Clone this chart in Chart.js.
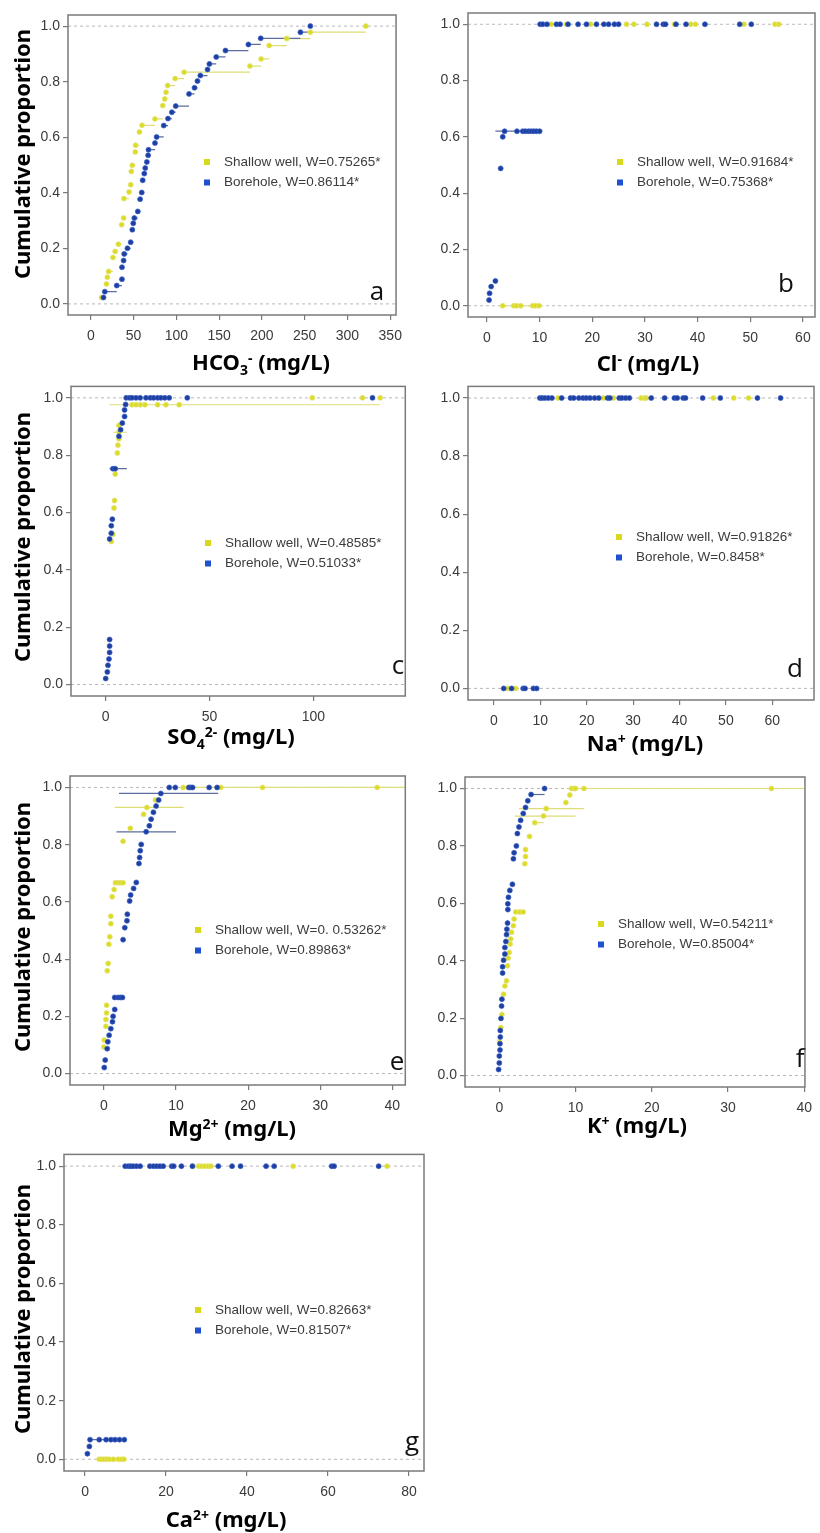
<!DOCTYPE html>
<html>
<head>
<meta charset="utf-8">
<script src="https://cdn.jsdelivr.net/npm/chart.js@4.4.0/dist/chart.umd.min.js"></script>
<style>
  body { margin: 0; background: #fff; }
  canvas { position: absolute; }
</style>
</head>
<body>
<script>
// ---- data: [x, cumulative proportion] ----
const hco3Shallow = [[12.5,0.023],[18.2,0.072],[19.3,0.096],[20.8,0.117],[25.8,0.167],[28.4,0.189],[32.2,0.215],[36,0.285],[38.3,0.309],[38.6,0.379],[44.7,0.403],[46.6,0.429],[47.3,0.477],[48.5,0.499],[51.9,0.547],[52.3,0.571],[56.8,0.619],[59.8,0.643],[75,0.666],[84.1,0.714],[86.4,0.738],[87.9,0.762],[89.8,0.786],[98.5,0.811],[109,0.834],[186,0.856],[199,0.882],[208.5,0.930],[229,0.955],[256.6,0.978],[321.5,1.0]];
const hco3Borehole = [[14.8,0.023],[16.3,0.044],[30.3,0.066],[36.4,0.089],[36.4,0.132],[38.3,0.156],[39,0.18],[42.8,0.2],[46.6,0.222],[48.5,0.267],[49.6,0.29],[50.8,0.309],[54.9,0.333],[57.6,0.377],[59.5,0.401],[60.6,0.445],[62.5,0.469],[63.6,0.489],[65.5,0.511],[67,0.535],[67.4,0.555],[75,0.579],[76.9,0.601],[85.2,0.642],[90.2,0.667],[94.7,0.69],[99.2,0.712],[114.8,0.756],[121.2,0.778],[124.6,0.802],[128,0.822],[136.4,0.844],[138.6,0.864],[146.6,0.889],[157.4,0.912],[184.2,0.934],[198.6,0.956],[245,0.978],[256.6,1.0]];

const clShallow = [[3.0,0],[5.1,0],[5.6,0],[6.4,0],[8.7,0],[9.2,0],[9.9,0],[12.2,1],[15.1,1],[19.7,1],[26.5,1],[27.9,1],[30.4,1],[35.6,1],[38.7,1],[39.6,1],[48.8,1],[54.7,1],[55.4,1]];
const clBorehole = [[0.4,0.02],[0.5,0.044],[0.8,0.068],[1.6,0.088],[2.6,0.488],[3.0,0.6],[3.35,0.62],[5.7,0.62],[6.8,0.62],[7.3,0.62],[7.9,0.62],[8.4,0.62],[8.9,0.62],[9.4,0.62],[10.0,0.62],[10.1,1],[10.6,1],[11.4,1],[13.2,1],[13.9,1],[15.4,1],[17.3,1],[18.9,1],[20.8,1],[22.2,1],[23.1,1],[24.2,1],[25.0,1],[32.2,1],[33.5,1],[33.9,1],[35.9,1],[37.8,1],[41.4,1],[48.0,1],[50.2,1]];
const clShallowSegs = [[0, 3.0, 10.0]];          // [y, from x, to x]
const clBoreholeSegs = [[0.62, 1.6, 10.0]];

const so4Shallow = [[2.7,0.499],[3.5,0.524],[4,0.616],[4.3,0.642],[4.6,0.734],[5.6,0.808],[5.9,0.835],[6.4,0.857],[6.4,0.881],[6.4,0.904],[12.7,0.976],[14.6,0.976],[16.7,0.976],[18.9,0.976],[25,0.976],[29,0.976],[35.4,0.976],[99.5,1],[123.7,1],[132.2,1]];
const so4Borehole = [[0,0.021],[0.8,0.044],[1.1,0.067],[1.6,0.089],[1.9,0.112],[1.9,0.134],[1.9,0.157],[1.9,0.508],[2.7,0.528],[2.7,0.554],[3.2,0.577],[3.5,0.753],[4.6,0.753],[6.4,0.866],[7.2,0.889],[8,0.912],[9.1,0.935],[9.1,0.958],[9.6,0.977],[9.9,1],[11.5,1],[12.7,1],[14.6,1],[16.6,1],[19.4,1],[21.5,1],[23.1,1],[25,1],[26.6,1],[28.5,1],[30.6,1],[39.3,1],[128.5,1]];
const so4ShallowSegs = [[0.976, 1.9, 132], [0.88, 3.5, 10.2]];
const so4BoreholeSegs = [[0.753, 1.9, 10.2]];

const naShallow = [[3.0,0],[4.7,0],[13.8,1],[23.6,1],[25.8,1],[31.7,1],[32.4,1],[32.8,1],[47.3,1],[51.7,1],[54.9,1]];
const naBorehole = [[2.1,0],[3.8,0],[6.3,0],[6.7,0],[8.5,0],[9.2,0],[9.9,1],[10.4,1],[11.0,1],[11.7,1],[12.5,1],[14.6,1],[16.5,1],[17.2,1],[18.3,1],[19.2,1],[19.9,1],[20.7,1],[21.7,1],[22.6,1],[24.5,1],[25.0,1],[27.0,1],[27.6,1],[28.4,1],[29.2,1],[33.9,1],[36.8,1],[38.9,1],[39.5,1],[40.8,1],[41.3,1],[45.0,1],[48.8,1],[56.8,1],[61.8,1]];
const naShallowSegs = [];
const naBoreholeSegs = [];

const mgShallow = [[0,0.093],[0.05,0.117],[0.27,0.165],[0.27,0.189],[0.37,0.212],[0.37,0.239],[0.46,0.359],[0.6,0.385],[0.69,0.452],[0.82,0.478],[0.96,0.524],[0.96,0.55],[1.15,0.618],[1.42,0.643],[1.6,0.667],[1.97,0.667],[2.3,0.667],[2.66,0.667],[2.66,0.812],[3.66,0.857],[5.5,0.906],[5.96,0.93],[7.15,0.956],[11,1],[11.7,1],[16.2,1],[22,1],[37.9,1]];
const mgBorehole = [[0.05,0.021],[0.18,0.047],[0.46,0.087],[0.55,0.111],[0.73,0.134],[0.96,0.157],[1.19,0.181],[1.28,0.2],[1.5,0.224],[1.5,0.266],[1.97,0.266],[2.3,0.266],[2.57,0.266],[2.66,0.468],[2.9,0.51],[3.2,0.534],[3.25,0.557],[3.57,0.603],[3.71,0.624],[4.12,0.647],[4.49,0.668],[4.86,0.734],[4.95,0.755],[5.04,0.779],[5.18,0.801],[5.86,0.845],[6.3,0.866],[6.55,0.889],[6.87,0.913],[7.24,0.935],[7.6,0.956],[7.9,0.979],[9.07,1],[9.9,1],[11.8,1],[12.05,1],[12.3,1],[14.6,1],[15.7,1]];
const mgShallowSegs = [[0.93, 1.5, 11.04], [1, 11, 41.8]];
const mgBoreholeSegs = [[0.845, 1.74, 10.0], [0.979, 2.1, 15.85]];

const kShallow = [[0.05,0.117],[0.2,0.167],[0.34,0.213],[0.56,0.283],[0.73,0.312],[0.95,0.33],[1.08,0.382],[1.16,0.409],[1.29,0.429],[1.42,0.458],[1.5,0.476],[1.6,0.499],[1.85,0.522],[1.94,0.545],[2.15,0.57],[2.7,0.57],[3.14,0.57],[3.35,0.738],[3.44,0.763],[3.44,0.787],[3.96,0.833],[4.65,0.881],[5.8,0.904],[6.15,0.93],[8.73,0.951],[9.25,0.977],[9.46,1],[9.76,1],[10.0,1],[11.1,1],[35.7,1]];
const kBorehole = [[-0.09,0.021],[0,0.044],[0,0.068],[0.09,0.089],[0.09,0.111],[0.13,0.134],[0.13,0.157],[0.22,0.199],[0.3,0.242],[0.34,0.266],[0.43,0.357],[0.43,0.379],[0.56,0.402],[0.73,0.423],[0.73,0.446],[0.86,0.467],[0.95,0.491],[0.99,0.51],[1.08,0.531],[1.12,0.578],[1.12,0.598],[1.2,0.621],[1.38,0.645],[1.72,0.666],[1.85,0.755],[1.94,0.776],[2.24,0.8],[2.37,0.843],[2.58,0.866],[2.8,0.889],[3.14,0.913],[3.44,0.934],[3.74,0.957],[4.17,0.979],[5.94,1]];
const kShallowSegs = [[0.93, 2.58, 11.1], [0.904, 2.06, 10.0], [0.881, 4.65, 5.8], [0.57, 2.15, 3.14], [1, 9.46, 40.1]];
const kBoreholeSegs = [[0.979, 4.17, 5.94]];

const caShallow = [[3.5,0],[4.1,0],[4.7,0],[5.3,0],[6.0,0],[7.0,0],[8.2,0],[9.0,0],[9.6,0],[26.7,1],[28.1,1],[28.8,1],[29.6,1],[30.4,1],[31.1,1],[51.4,1],[74.6,1]];
const caBorehole = [[0.58,0.019],[1.07,0.044],[1.23,0.067],[3.5,0.067],[5.2,0.067],[6.4,0.067],[7.4,0.067],[8.5,0.067],[9.7,0.067],[9.9,1],[10.7,1],[11.3,1],[11.9,1],[12.7,1],[13.6,1],[16.0,1],[16.9,1],[17.7,1],[18.5,1],[19.3,1],[21.4,1],[21.9,1],[23.8,1],[26.5,1],[32.9,1],[36.3,1],[38.4,1],[44.7,1],[46.7,1],[60.9,1],[61.5,1],[72.5,1]];
const caShallowSegs = [[0, 3.5, 9.6]];
const caBoreholeSegs = [[0.067, 1.23, 9.7]];

// Shapiro-Wilk W reported in each legend
const shallowW = ['0.75265*', '0.91684*', '0.48585*', '0.91826*', '0. 0.53262*', '0.54211*', '0.82663*'];
const boreholeW = ['0.86114*', '0.75368*', '0.51033*', '0.8458*', '0.89863*', '0.85004*', '0.81507*'];

const yTicks = [0, 0.2, 0.4, 0.6, 0.8, 1.0];
const hco3Ticks = [0, 50, 100, 150, 200, 250, 300, 350];
const clTicks = [0, 10, 20, 30, 40, 50, 60];
const so4Ticks = [0, 50, 100];
const naTicks = [0, 10, 20, 30, 40, 50, 60];
const mgTicks = [0, 10, 20, 30, 40];
const kTicks = [0, 10, 20, 30, 40];
const caTicks = [0, 20, 40, 60, 80];

// ECDF horizontal steps: from each point to the next x
function stepSegments(pts) {
    const s = pts.slice().sort((a, b) => a[0] - b[0]);
    const out = [];
    for (let i = 0; i < s.length - 1; i++) {
        if (s[i + 1][0] > s[i][0]) out.push([s[i][1], s[i][0], s[i + 1][0]]);
    }
    return out;
}

const YELLOW = '#dcdc28';
const BLUE = '#1f3f9f';
const AXIS_GREY = '#7a7a7a';

// layout in page pixels: canvas box [left, top, w, h], plot area [l, t, r, b]
const panels = [
    { letter: 'a', box: [0, 0, 410, 375], area: [68, 15, 405, 315], xr: [-26.7, 356.8], ticks: hco3Ticks,
      sh: hco3Shallow, bh: hco3Borehole, shSeg: stepSegments(hco3Shallow), bhSeg: stepSegments(hco3Borehole),
      xTitle: 'HCO_{3}^{-} (mg/L)', xTitleAt: [261, 362], yTitleY: 154, legendAt: [207, 162], letterAt: [377, 293] },
    { letter: 'b', box: [410, 0, 410, 375], area: [468, 13, 815, 317], xr: [-3.6, 62.3], ticks: clTicks,
      sh: clShallow, bh: clBorehole, shSeg: clShallowSegs, bhSeg: clBoreholeSegs,
      xTitle: 'Cl^{-} (mg/L)', xTitleAt: [648, 363], yTitleY: null, legendAt: [620, 162], letterAt: [786, 285] },
    { letter: 'c', box: [0, 375, 410, 383], area: [71, 382, 408, 696], xr: [-16.7, 144.3], ticks: so4Ticks,
      sh: so4Shallow, bh: so4Borehole, shSeg: so4ShallowSegs, bhSeg: so4BoreholeSegs,
      xTitle: 'SO_{4}^{2-} (mg/L)', xTitleAt: [231, 736], yTitleY: 537, legendAt: [208, 543], letterAt: [398, 667] },
    { letter: 'd', box: [410, 375, 410, 383], area: [468, 385, 814, 700], xr: [-5.6, 69], ticks: naTicks,
      sh: naShallow, bh: naBorehole, shSeg: naShallowSegs, bhSeg: naBoreholeSegs,
      xTitle: 'Na^{+} (mg/L)', xTitleAt: [645, 743], yTitleY: null, legendAt: [619, 537], letterAt: [795, 670] },
    { letter: 'e', box: [0, 758, 410, 385], area: [70, 776, 408, 1085], xr: [-4.7, 41.8], ticks: mgTicks,
      sh: mgShallow, bh: mgBorehole, shSeg: mgShallowSegs, bhSeg: mgBoreholeSegs,
      xTitle: 'Mg^{2+} (mg/L)', xTitleAt: [232, 1128], yTitleY: 927, legendAt: [198, 930], letterAt: [397, 1063] },
    { letter: 'f', box: [410, 758, 410, 385], area: [465, 777, 812, 1087], xr: [-4.5, 40.1], ticks: kTicks,
      sh: kShallow, bh: kBorehole, shSeg: kShallowSegs, bhSeg: kBoreholeSegs,
      xTitle: 'K^{+} (mg/L)', xTitleAt: [637, 1125], yTitleY: null, legendAt: [601, 924], letterAt: [800, 1060] },
    { letter: 'g', box: [0, 1143, 440, 390], area: [64, 1154, 424, 1471], xr: [-5.2, 83.7], ticks: caTicks,
      sh: caShallow, bh: caBorehole, shSeg: caShallowSegs, bhSeg: caBoreholeSegs,
      xTitle: 'Ca^{2+} (mg/L)', xTitleAt: [226, 1519], yTitleY: 1309, legendAt: [198, 1310], letterAt: [412, 1443] }
];

// split "HCO_{3}^{-}" into normal / sub / sup runs
function richParts(str) {
    const parts = [];
    const re = /([_^])\{([^}]*)\}|([^_^]+)/g;
    let m;
    while ((m = re.exec(str))) {
        if (m[3]) parts.push([m[3], 0]);
        else parts.push([m[2], m[1] === '_' ? -1 : 1]);
    }
    return parts;
}

function drawRich(ctx, str, cx, cy, size) {
    const parts = richParts(str);
    const fontFor = lvl => 'bold ' + (lvl ? Math.round(size * 0.62) : size) + 'px "Noto Sans"';
    let total = 0;
    parts.forEach(p => { ctx.font = fontFor(p[1]); total += ctx.measureText(p[0]).width; });
    let x = cx - total / 2;
    ctx.textBaseline = 'alphabetic';
    ctx.textAlign = 'left';
    const base = cy + size * 0.36;
    parts.forEach(p => {
        ctx.font = fontFor(p[1]);
        const dy = p[1] === -1 ? size * 0.22 : (p[1] === 1 ? -size * 0.3 : 0);
        ctx.fillText(p[0], x, base + dy);
        x += ctx.measureText(p[0]).width;
    });
}

const panelDeco = {
    id: 'panelDeco',
    beforeDatasetsDraw(chart, args, o) {
        const { ctx, chartArea: a, scales: { y } } = chart;
        ctx.save();
        ctx.strokeStyle = '#b8b8b8';
        ctx.lineWidth = 1;
        ctx.setLineDash([3, 3]);
        [0, 1].forEach(v => {
            const py = y.getPixelForValue(v);
            ctx.beginPath();
            ctx.moveTo(a.left, py);
            ctx.lineTo(a.right, py);
            ctx.stroke();
        });
        ctx.restore();
    },
    afterDraw(chart, args, o) {
        const { ctx, chartArea: a } = chart;
        const p = o.panel;
        const ox = p.box[0], oy = p.box[1];
        ctx.save();
        // frame
        ctx.strokeStyle = AXIS_GREY;
        ctx.lineWidth = 1.5;
        ctx.strokeRect(a.left, a.top, a.right - a.left, a.bottom - a.top);

        // legend
        const lx = p.legendAt[0] - ox, ly = p.legendAt[1] - oy;
        const rows = [[o.shallowLabel, '#d8d81c'], [o.boreholeLabel, '#1f50d0']];
        ctx.font = '13.5px "Liberation Sans"';
        ctx.textBaseline = 'middle';
        ctx.textAlign = 'left';
        rows.forEach((r, i) => {
            const yy = ly + i * 20.5;
            ctx.fillStyle = r[1];
            ctx.fillRect(lx - 3, yy - 3, 6, 6);
            ctx.fillStyle = '#3c3c3c';
            ctx.fillText(r[0], lx + 17, yy);
        });

        // panel letter
        ctx.fillStyle = '#111';
        ctx.font = '26px "Open Sans"';
        ctx.textAlign = 'center';
        ctx.fillText(p.letter, p.letterAt[0] - ox, p.letterAt[1] - oy);

        // axis titles
        ctx.fillStyle = '#000';
        drawRich(ctx, p.xTitle, p.xTitleAt[0] - ox, p.xTitleAt[1] - oy, 22);
        if (p.yTitleY !== null) {
            ctx.translate(22, p.yTitleY - oy);
            ctx.rotate(-Math.PI / 2);
            drawRich(ctx, 'Cumulative proportion', 0, 0, 22);
        }
        ctx.restore();
    }
};

const toXY = pts => pts.map(([x, y]) => ({ x, y }));
const segData = segs => segs.flatMap(([y, x0, x1]) => [{ x: x0, y }, { x: x1, y }, { x: x1, y: null }]);

function makePanel(p, idx) {
    const [L, T, W, H] = p.box;
    const [al, at, ar, ab] = p.area;
    const canvas = document.createElement('canvas');
    canvas.width = W;
    canvas.height = H;
    canvas.style.left = L + 'px';
    canvas.style.top = T + 'px';
    document.body.appendChild(canvas);

    const pointStyle = (fill, edge) => ({
        showLine: false, pointRadius: 2.5, pointBorderWidth: 0.7,
        backgroundColor: fill, borderColor: edge, pointBackgroundColor: fill, pointBorderColor: edge
    });
    const lineStyle = color => ({
        type: 'line', showLine: true, pointRadius: 0, borderWidth: 1.2,
        borderColor: color, spanGaps: false, tension: 0
    });

    const tickFont = { family: '"Liberation Sans"', size: 14 };

    new Chart(canvas, {
        type: 'scatter',
        data: {
            datasets: [
                Object.assign({ label: 'Borehole', data: toXY(p.bh) }, pointStyle(BLUE, '#3a62cc')),
                Object.assign({ label: 'Shallow well', data: toXY(p.sh) }, pointStyle(YELLOW, '#e4e478')),
                Object.assign({ label: 'Borehole steps', data: segData(p.bhSeg) }, lineStyle('#5c6c9c')),
                Object.assign({ label: 'Shallow steps', data: segData(p.shSeg) }, lineStyle('#dede78'))
            ]
        },
        options: {
            responsive: false,
            animation: false,
            events: [],
            layout: { padding: { left: 0, top: at - T, right: L + W - ar, bottom: 0 } },
            plugins: {
                legend: { display: false },
                tooltip: { enabled: false },
                panelDeco: {
                    panel: p,
                    shallowLabel: 'Shallow well, W=' + shallowW[idx],
                    boreholeLabel: 'Borehole, W=' + boreholeW[idx]
                }
            },
            scales: {
                x: {
                    type: 'linear',
                    min: p.xr[0],
                    max: p.xr[1],
                    afterFit: s => { s.height = T + H - ab; },
                    afterBuildTicks: s => { s.ticks = p.ticks.map(v => ({ value: v })); },
                    border: { display: false },
                    grid: { drawOnChartArea: false, drawTicks: true, tickLength: 5, color: AXIS_GREY, lineWidth: 1.2 },
                    ticks: { font: tickFont, color: '#3a3a3a', padding: 8, maxRotation: 0, autoSkip: false,
                             callback: v => String(v) }
                },
                y: {
                    type: 'linear',
                    min: -0.04,
                    max: 1.04,
                    afterFit: s => { s.width = al - L; },
                    afterBuildTicks: s => { s.ticks = yTicks.map(v => ({ value: v })); },
                    border: { display: false },
                    grid: { drawOnChartArea: false, drawTicks: true, tickLength: 5, color: AXIS_GREY, lineWidth: 1.2 },
                    ticks: { font: tickFont, color: '#3a3a3a', padding: 3, callback: v => v.toFixed(1) }
                }
            }
        },
        plugins: [panelDeco]
    });
}

panels.forEach(makePanel);
</script>
</body>
</html>
